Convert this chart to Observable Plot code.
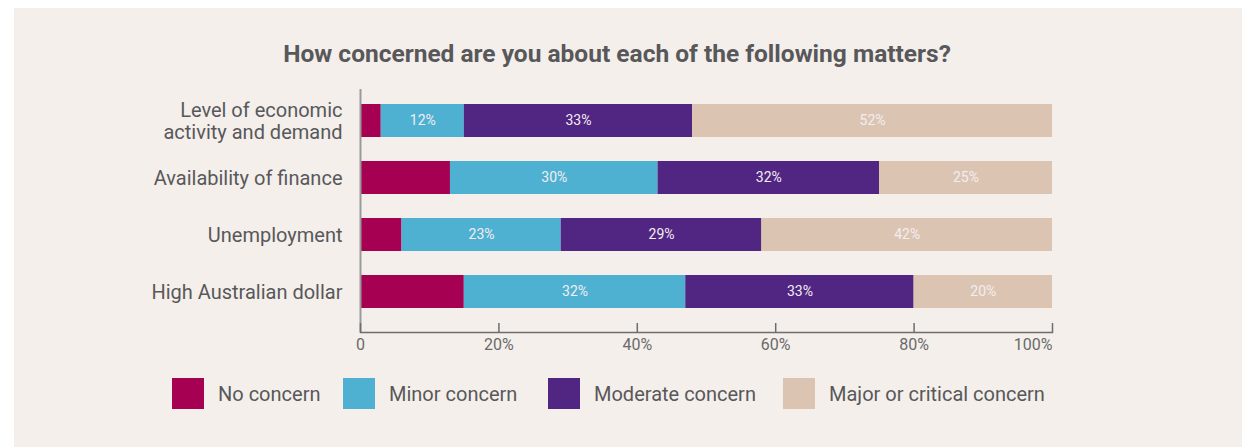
<!DOCTYPE html>
<html>
<head>
<meta charset="utf-8">
<script src="https://cdn.jsdelivr.net/npm/d3@7"></script>
<script src="https://cdn.jsdelivr.net/npm/@observablehq/plot@0.6"></script>
<style>
  html, body { margin: 0; padding: 0; background: #ffffff; }
  body { width: 1242px; height: 447px; position: relative; overflow: hidden; font-family: Roboto, "Noto Sans", sans-serif; }
  #bg { position: absolute; left: 14px; top: 8px; right: 0; bottom: 0; background: #f4efeb; }
  #wrap { position: absolute; left: 0; top: 0; width: 1242px; }
  #title { height: 80px; box-sizing: border-box; padding-top: 40px; text-align: center; font-size: 24.5px; font-weight: 700; color: #58585a; line-height: 28px; }
  #title span { position: relative; left: -4px; }
  #chart svg { display: block; background: transparent; }
  #legend { position: relative; height: 60px; }
  .item { position: absolute; top: 18px; display: flex; align-items: center; }
  .sw { width: 32px; height: 31px; }
  .lab { font-size: 20px; color: #58585a; margin-left: 14px; }
</style>
</head>
<body>
<div id="bg"></div>
<div id="wrap">
  <div id="title"><span>How concerned are you about each of the following matters?</span></div>
  <div id="chart"></div>
  <div id="legend"></div>
</div>
<script>
const items = ["Level of economic\nactivity and demand", "Availability of finance", "Unemployment", "High Australian dollar"];
const categories = ["No concern", "Minor concern", "Moderate concern", "Major or critical concern"];
const noConcern = [3, 13, 6, 15];
const minorConcern = [12, 30, 23, 32];
const moderateConcern = [33, 32, 29, 33];
const majorConcern = [52, 25, 42, 20];
const colors = ["#a60052", "#4fb1d1", "#512683", "#dbc5b2"];
const xTicks = [0, 20, 40, 60, 80, 100];

const series = [noConcern, minorConcern, moderateConcern, majorConcern];
const data = [];
items.forEach((item, i) => {
  categories.forEach((cat, j) => {
    data.push({item, cat, value: series[j][i]});
  });
});

const fmt = d => d === 0 ? "0" : d + "%";
const plot = Plot.plot({
  width: 1242,
  height: 280,
  marginTop: 0,
  marginBottom: 28,
  marginLeft: 360,
  marginRight: 190,
  style: {background: "transparent", fontFamily: "Roboto, 'Noto Sans', sans-serif"},
  x: {domain: [0, 100], ticks: xTicks},
  y: {domain: items, padding: 0.42},
  color: {domain: categories, range: colors},
  marks: [
    Plot.barX(data, Plot.stackX({x: "value", y: "item", fill: "cat", order: categories})),
    Plot.text(data, Plot.stackX({
      x: "value", y: "item", z: "cat", order: categories,
      text: d => d.cat === "No concern" ? null : d.value + "%",
      fill: "#f3edf1", fontSize: 14
    })),
    Plot.ruleX([0], {stroke: "#9a9a9a", strokeWidth: 2, insetTop: 9}),
    Plot.frame({anchor: "bottom", stroke: "#6d6d6d", strokeWidth: 1.5}),
    Plot.axisX({
      ticks: xTicks.slice(0, -1), tickSize: -9, tickPadding: 15, stroke: "#6d6d6d", strokeWidth: 1.5,
      tickFormat: fmt, fontSize: 16, fill: "#6a6a6a", label: null
    }),
    Plot.axisX({
      ticks: xTicks.slice(-1), tickSize: -9, tickPadding: 15, stroke: "#6d6d6d", strokeWidth: 1.5,
      tickFormat: fmt, fontSize: 16, fill: "#6a6a6a", label: null, textAnchor: "end"
    }),
    Plot.axisY({tickSize: 0, tickPadding: 18, fontSize: 20, fill: "#58585a", label: null, lineHeight: 1.12})
  ]
});
document.getElementById("chart").appendChild(plot);

const legend = document.getElementById("legend");
const swX = [172, 343, 548, 783];
categories.forEach((cat, i) => {
  const it = document.createElement("div");
  it.className = "item";
  it.style.left = swX[i] + "px";
  const sw = document.createElement("div");
  sw.className = "sw";
  sw.style.background = colors[i];
  const lab = document.createElement("span");
  lab.className = "lab";
  lab.textContent = cat;
  it.appendChild(sw);
  it.appendChild(lab);
  legend.appendChild(it);
});
</script>
</body>
</html>
